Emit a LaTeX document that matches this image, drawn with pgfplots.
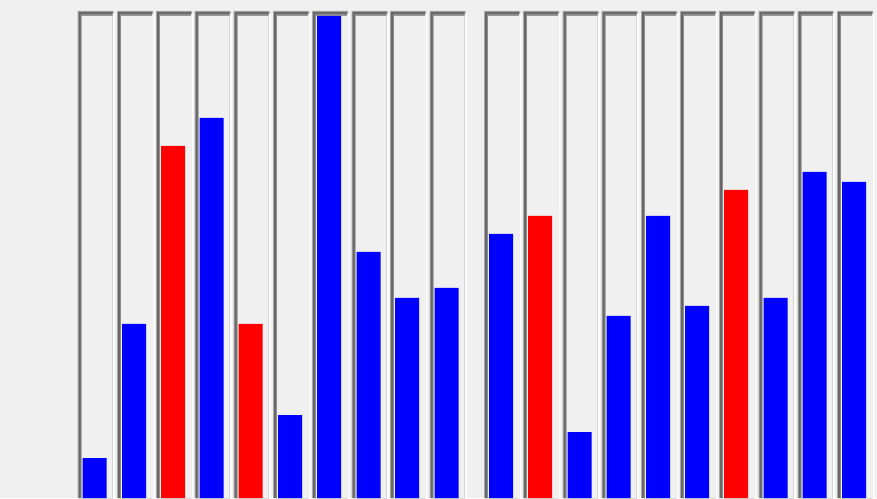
\documentclass[border=0pt]{standalone}
\usepackage{pgfplots}
\usepackage{pgfplotstable}
\pgfplotsset{compat=1.18}
\definecolor{bgc}{HTML}{F0F0F0}
\definecolor{frlight}{HTML}{A8A8A8}
\definecolor{frdark}{HTML}{686868}
\definecolor{frmid}{HTML}{8C8C8C}
\definecolor{frwhite}{HTML}{FCFCFC}
\definecolor{barblue}{HTML}{0000FF}
\definecolor{barred}{HTML}{FF0000}
\pgfplotstableread{
x     outer dark white mid inner
94.5  487 486 484 484 482
134   487 486 484 484 482
173   487 486 484 484 482
211.5 487 486 484 484 482
250.5 487 486 484 484 482
290   487 486 484 484 482
329   487 486 484 484 482
368.5 487 486 484 484 482
407   487 486 484 484 482
446.5 487 486 484 484 482
501   487 486 484 484 482
540   487 486 484 484 482
579.5 487 486 484 484 482
618.5 487 486 484 484 482
658   487 486 484 484 482
697   487 486 484 484 482
736   487 486 484 484 482
775.5 487 486 484 484 482
814.5 487 486 484 484 482
854   487 486 484 484 482
}\frames
\begin{document}
\begin{tikzpicture}
\begin{axis}[
  x=1pt, y=1pt,
  xmin=0, xmax=877, ymin=0, ymax=498,
  axis lines=none, ticks=none,
  axis background/.style={fill=bgc},
  clip=true,
]
\addplot[ybar, bar width=36, bar shift=1, fill=frlight, draw=none] table[x=x, y=outer] {\frames};
\addplot[ybar, bar width=34, bar shift=1, fill=frdark, draw=none] table[x=x, y=dark] {\frames};
\addplot[ybar, bar width=2.5, bar shift=19, fill=frwhite, draw=none] table[x=x, y=white] {\frames};
\addplot[ybar, bar width=32, bar shift=2, fill=frmid, draw=none] table[x=x, y=mid] {\frames};
\addplot[ybar, bar width=31, bar shift=2.5, fill=bgc, draw=none] table[x=x, y=inner] {\frames};
\addplot[ybar, bar width=24, bar shift=0, fill=barblue, draw=none] coordinates {
(94.5,40) (134,174) (211.5,380) (290,83) (329,482) (368.5,246) (407,200) (446.5,210)
(501,264) (579.5,66) (618.5,182) (658,282) (697,192) (775.5,200) (814.5,326) (854,316)};
\addplot[ybar, bar width=24, bar shift=0, fill=barred, draw=none] coordinates {
(173,352) (250.5,174) (540,282) (736,308)};
\end{axis}
\end{tikzpicture}
\end{document}
